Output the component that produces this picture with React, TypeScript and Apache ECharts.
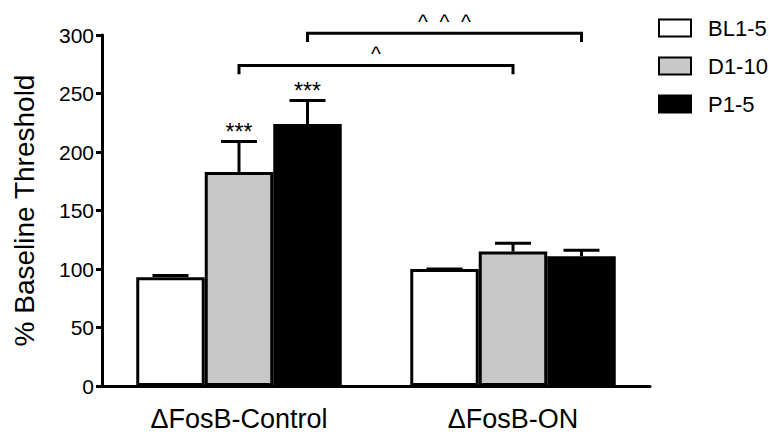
import React, { useEffect, useRef } from "react";
import * as echarts from "echarts";

const categories = ["ΔFosB-Control", "ΔFosB-ON"];
const seriesNames = ["BL1-5", "D1-10", "P1-5"];
const bl = [93, 100];
const d = [183, 115];
const p = [224, 111];
const blErr = [1.5, 0];
const dErr = [26, 7];
const pErr = [20, 5];
const starLabels = [["", ""], ["***", ""], ["***", ""]];
const yTicks = { min: 0, max: 300, interval: 50 };
// brackets: [fromCat, fromSeries, toCat, toSeries, lineValue, legValue]
const bracketLines = [
  [0, 1, 1, 1, 274, 266.5],
  [0, 2, 1, 2, 301.5, 294],
];
const bracketLabels = ["^", "^  ^  ^"];

const FONT = "'Liberation Sans', Arial, Helvetica, sans-serif";
const GAP = 0.25;
const fills = ["#ffffff", "#c8c8c8", "#000000"];

export default function App() {
  const ref = useRef<HTMLDivElement>(null);
  useEffect(() => {
    if (!ref.current) return;
    const chart = echarts.init(ref.current, null, { renderer: "svg" });
    const values = [bl, d, p];
    const errs = [blErr, dErr, pErr];
    const errData: number[][] = [];
    const errLabels: string[] = [];
    for (let s = 0; s < 3; s++) {
      for (let c = 0; c < categories.length; c++) {
        errData.push([c, s, values[s][c], errs[s][c]]);
        errLabels.push(starLabels[s][c]);
      }
    }
    const barOffset = (api: any, s: number) => {
      const bandW = api.size([1, 0])[0];
      const barW = (bandW * (1 - GAP)) / 3;
      return (s - 1) * barW;
    };
    const option: any = {
      animation: false,
      backgroundColor: "#ffffff",
      textStyle: { fontFamily: FONT, color: "#000" },
      grid: { left: 102, right: 119, top: 35, bottom: 49, containLabel: false },
      legend: {
        orient: "vertical",
        left: 653,
        top: 12,
        itemWidth: 32,
        itemHeight: 17,
        itemGap: 16,
        icon: "rect",
        data: seriesNames,
        textStyle: { fontFamily: FONT, fontSize: 22, color: "#000", padding: [0, 0, 0, 12] },
      },
      xAxis: {
        type: "category",
        data: categories,
        axisLine: { show: true, lineStyle: { color: "#000", width: 3 } },
        axisTick: { show: false },
        axisLabel: { fontFamily: FONT, fontSize: 27, color: "#000", margin: 19 },
        splitLine: { show: false },
      },
      yAxis: {
        type: "value",
        min: yTicks.min,
        max: yTicks.max,
        interval: yTicks.interval,
        name: "% Baseline Threshold",
        nameLocation: "middle",
        nameGap: 64,
        nameRotate: 90,
        nameTextStyle: { fontFamily: FONT, fontSize: 28, color: "#000" },
        axisLine: { show: true, lineStyle: { color: "#000", width: 3 } },
        axisTick: { show: true, length: 6, lineStyle: { color: "#000", width: 3 } },
        axisLabel: { fontFamily: FONT, fontSize: 21, color: "#000", margin: 8 },
        splitLine: { show: false },
      },
      series: [
        ...seriesNames.map((name, s) => ({
          name,
          type: "bar",
          data: values[s],
          barGap: "0%",
          barCategoryGap: GAP * 100 + "%",
          itemStyle: { color: fills[s], borderColor: "#000", borderWidth: 3 },
          z: 2,
        })),
        {
          type: "custom",
          z: 5,
          data: errData,
          encode: { x: 0, y: 2 },
          renderItem: (params: any, api: any) => {
            const c = api.value(0);
            const s = api.value(1);
            const v = api.value(2);
            const e = api.value(3);
            const base = api.coord([c, v]);
            const x = base[0] + barOffset(api, s);
            const top = api.coord([c, v + e])[1];
            const children: any[] = [];
            if (e > 0) {
              children.push({
                type: "line",
                shape: { x1: x, y1: base[1], x2: x, y2: top },
                style: { stroke: "#000", lineWidth: 3 },
              });
            }
            children.push({
              type: "line",
              shape: { x1: x - 18, y1: top, x2: x + 18, y2: top },
              style: { stroke: "#000", lineWidth: 3 },
            });
            const lab = errLabels[params.dataIndex];
            if (lab) {
              children.push({
                type: "text",
                style: {
                  text: lab,
                  x: x,
                  y: top - 21,
                  align: "center",
                  verticalAlign: "top",
                  fontFamily: FONT,
                  fontSize: 23,
                  fill: "#000",
                },
              });
            }
            return { type: "group", children };
          },
        },
        {
          type: "custom",
          z: 5,
          clip: false,
          data: bracketLines,
          encode: { x: 0, y: 4 },
          renderItem: (params: any, api: any) => {
            const c1 = api.value(0);
            const s1 = api.value(1);
            const c2 = api.value(2);
            const s2 = api.value(3);
            const yv = api.value(4);
            const lv = api.value(5);
            const p1 = api.coord([c1, yv]);
            const p2 = api.coord([c2, yv]);
            const x1 = p1[0] + barOffset(api, s1);
            const x2 = p2[0] + barOffset(api, s2);
            const y = p1[1];
            const yl = api.coord([c1, lv])[1];
            return {
              type: "group",
              children: [
                {
                  type: "polyline",
                  shape: { points: [[x1, yl], [x1, y], [x2, y], [x2, yl]] },
                  style: { stroke: "#000", lineWidth: 3, fill: "none" },
                },
                {
                  type: "text",
                  style: {
                    text: bracketLabels[params.dataIndex],
                    x: (x1 + x2) / 2,
                    y: y - 22,
                    align: "center",
                    verticalAlign: "top",
                    fontFamily: FONT,
                    fontSize: 21,
                    fill: "#000",
                  },
                },
              ],
            };
          },
        },
      ],
    };
    chart.setOption(option);
    return () => chart.dispose();
  }, []);
  return <div ref={ref} style={{ width: 769, height: 435, position: "absolute", left: 0, top: 0 }} />;
}
